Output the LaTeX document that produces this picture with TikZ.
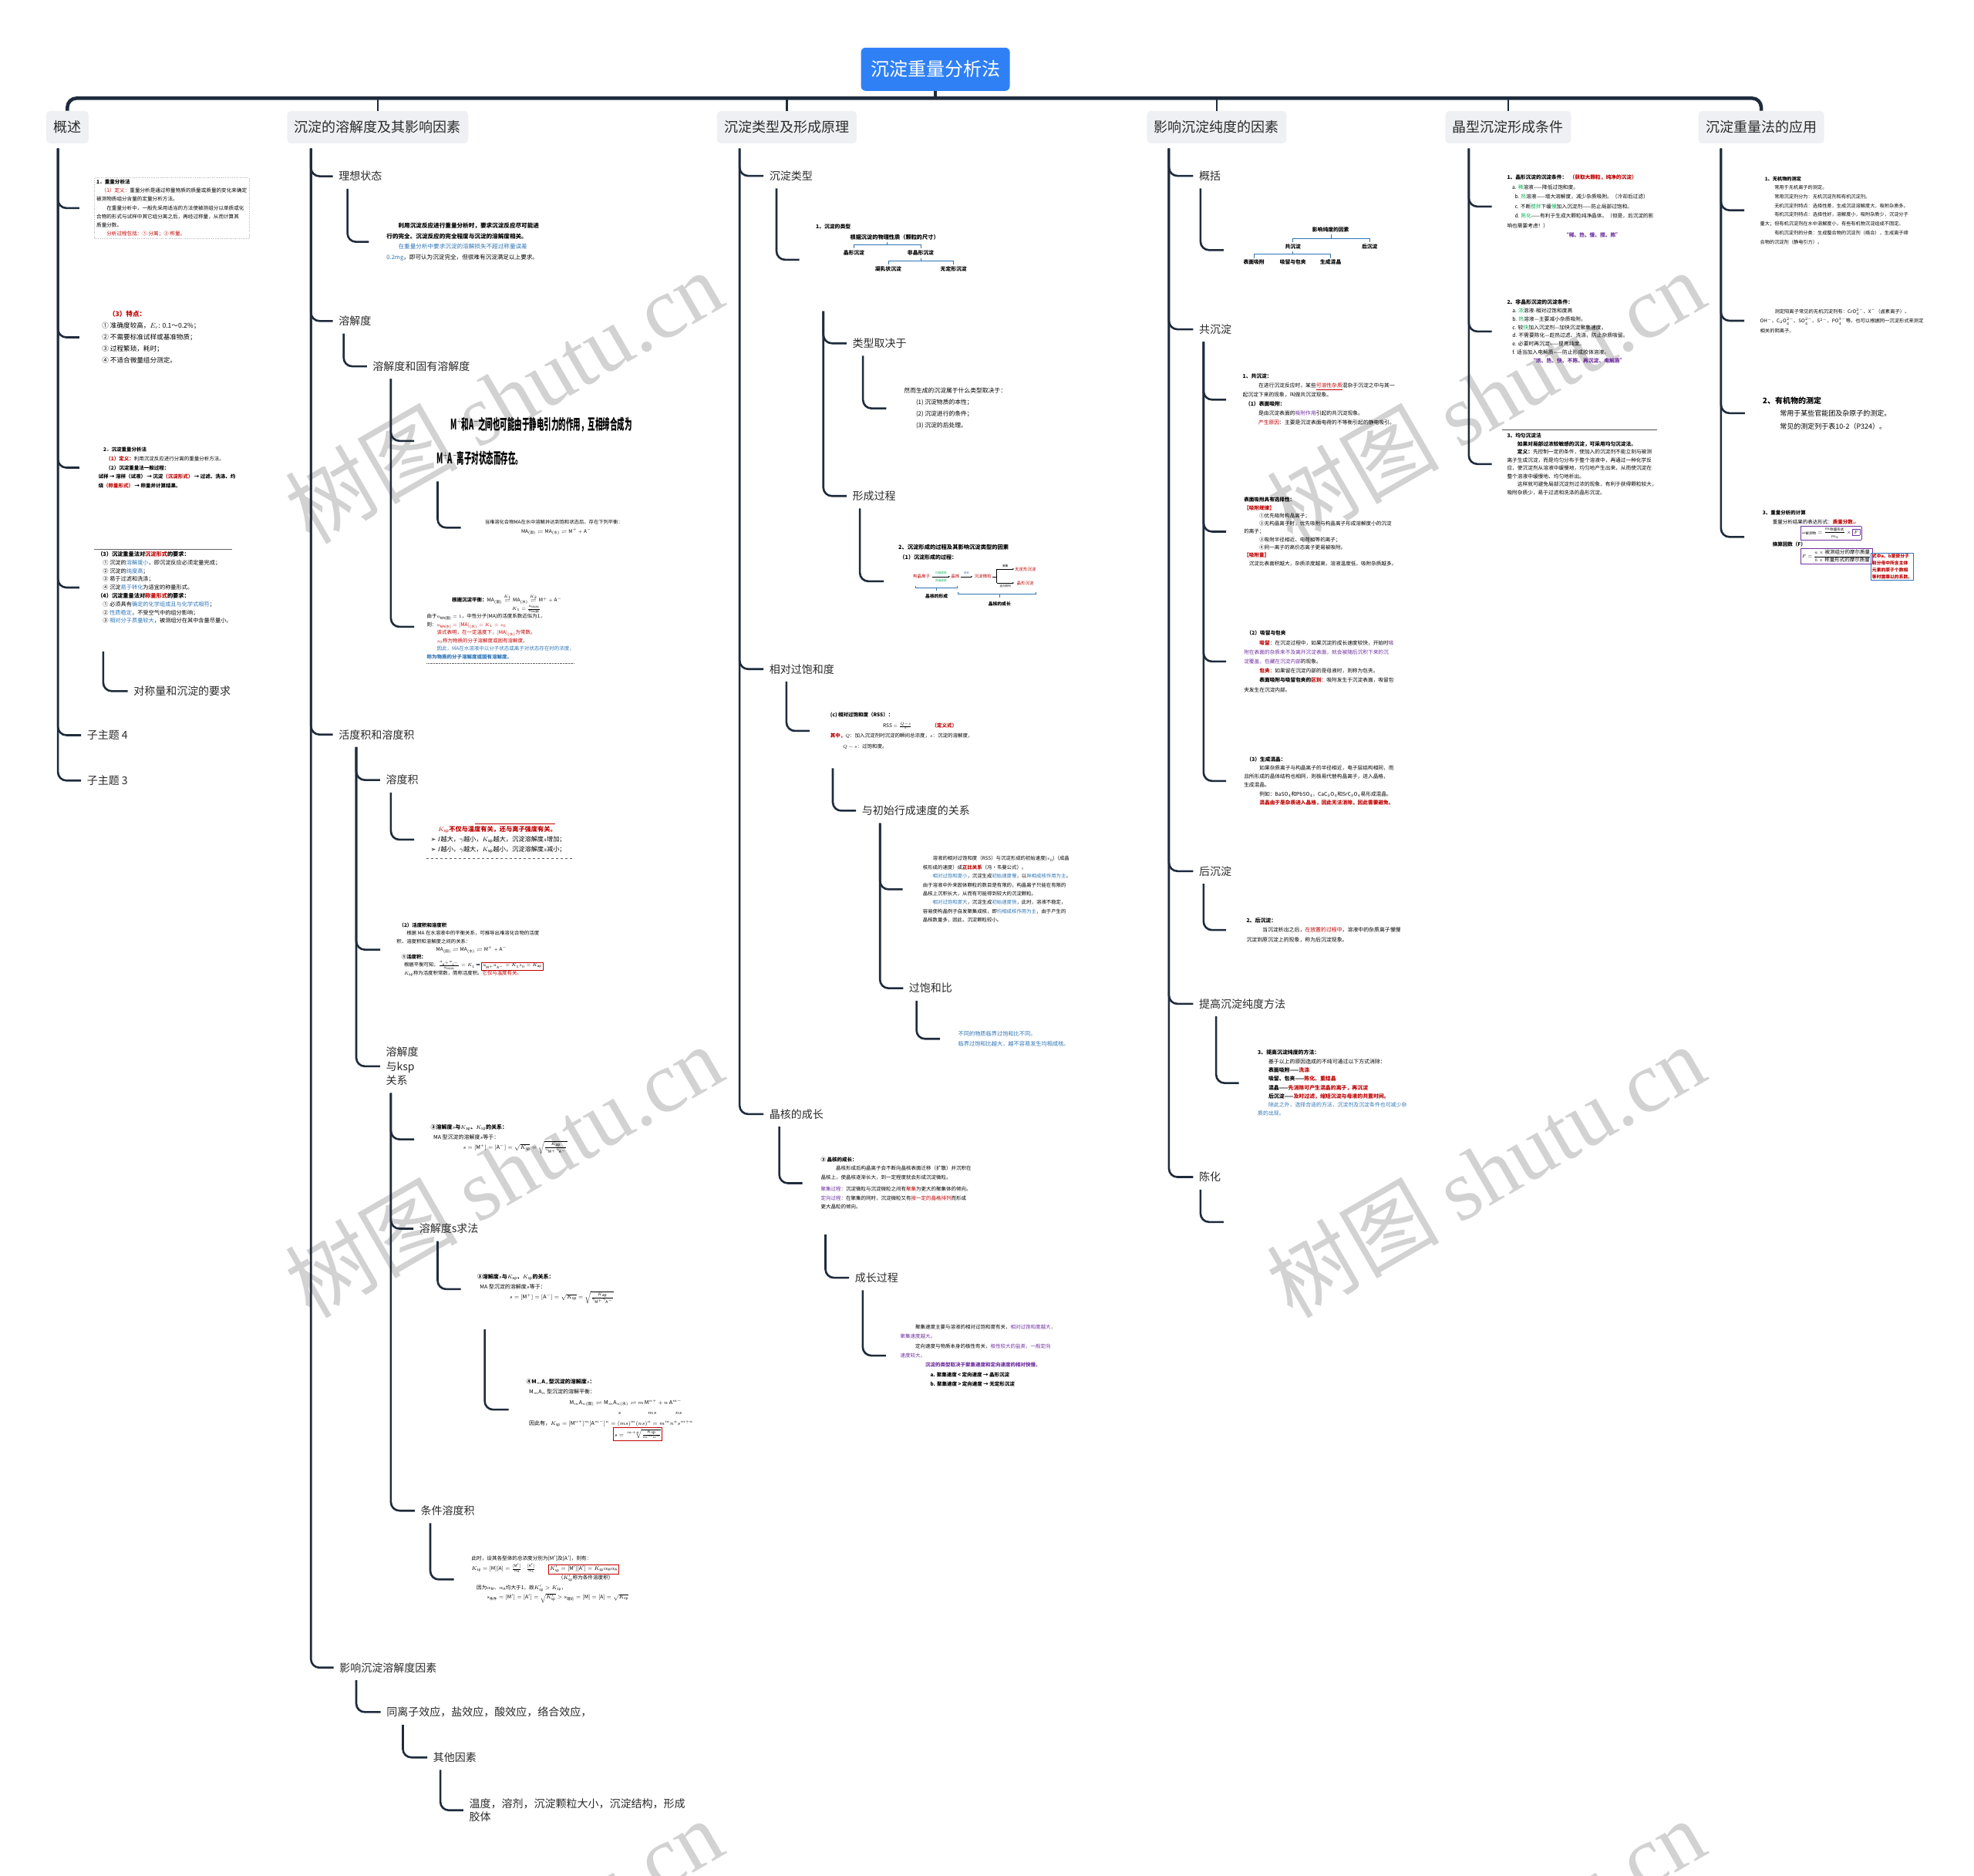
\documentclass[tikz,border=0pt]{standalone}
\usepackage{fontspec}
\usepackage{amsmath,amssymb}
\usepackage{graphicx}
\setmainfont{Noto Sans CJK SC}
\newfontfamily\wmserif{Liberation Serif}
\newfontfamily\djv{DejaVu Sans}
\usetikzlibrary{calc,arrows.meta}
\XeTeXlinebreaklocale "zh"
\definecolor{navy}{HTML}{1E2B3C}
\definecolor{rootblue}{HTML}{2F80F5}
\definecolor{hdrgray}{HTML}{EEF0F3}
\definecolor{txt}{HTML}{2B2B2B}
\definecolor{cred}{HTML}{C00000}
\definecolor{cblue}{HTML}{2E75B6}
\definecolor{cpurple}{HTML}{7030A0}
\definecolor{cgreen}{HTML}{00B050}
\definecolor{wm}{HTML}{D2D2D2}
\setlength\fboxsep{1.5pt}
\setlength\fboxrule{0.6pt}
\newcommand\fsz[2]{\fontsize{#1}{#2}\selectfont}
\newcommand\kid[4][4]{\coordinate (vx) at (#3,0);\draw[conn] (#2.south -| vx) ++(0,#1) |- (#4.west);}
\newcommand\kidg[5][4]{\coordinate (vx) at (#3,0);\draw[conn] (#2.south -| vx) ++(0,#1) |- ($(#4.west)+(-#5,0)$);}
\tikzset{
 conn/.style={draw=navy, line width=2.6pt, rounded corners=11pt},
 busline/.style={draw=navy, line width=4.5pt, rounded corners=12pt},
 rootbox/.style={fill=rootblue, text=white, rounded corners=6pt, minimum width=193pt, minimum height=56pt, font=\fsz{24}{28}},
 hdr/.style={fill=hdrgray, text=txt, rounded corners=5pt, minimum height=42pt, inner xsep=9.5pt, font=\fsz{18}{22}},
 lbl/.style={anchor=west, text=txt, inner xsep=7.5pt, inner ysep=3pt, font=\fsz{14}{18}, align=left},
 img/.style={anchor=north west, inner sep=0pt, align=left, text=black},
 tb/.style={inner sep=0pt, font=\bfseries\fsz{6.8}{8}},
 dg/.style={inner sep=0pt, font=\fsz{5.5}{6}},
 dgs/.style={inner sep=0pt, font=\fsz{3.6}{4}},
}
\begin{document}
\begin{tikzpicture}[x=1.6327pt,y=-1.6327pt]
\useasboundingbox (0,0) rectangle (1568,1490);
\fill[white] (0,0) rectangle (1568,1490);
% watermarks
\foreach \cx/\cy in {400/315,1180/315,400/930,1180/930,400/1545,1180/1545}
  \node[text=wm, rotate=30, font=\fsz{112}{112}] at (\cx,\cy) {树图 {\wmserif shutu.cn}};

% root and headers
\node[rootbox] (root) at (743,55) {沉淀重量分析法};
\node[hdr] (h1) at (53.5,101) {概述};
\node[hdr] (h2) at (300,101) {沉淀的溶解度及其影响因素};
\node[hdr] (h3) at (625,101) {沉淀类型及形成原理};
\node[hdr] (h4) at (966.5,101) {影响沉淀纯度的因素};
\node[hdr] (h5) at (1198,101) {晶型沉淀形成条件};
\node[hdr] (h6) at (1399,101) {沉淀重量法的应用};
\coordinate (bus) at (743,78);
\draw[busline] (h1.north) |- (bus) -| (h6.north);
\draw[busline] (root.south) -- (bus);
\foreach \h in {h2,h3,h4,h5} \draw[conn] (\h.north |- bus) -- (\h.north);

% ================= Column 1: 概述
\node[img, draw=gray!60, dotted, inner sep=2.5pt, font=\fsz{6.6}{11.2}] (c1a) at (75,141) {%
{\bfseries 1．重量分析法}\\
\hspace*{1em}{\color{cred}（1）定义：}重量分析是通过称量物质的质量或质量的变化来确定\\
被测物质组分含量的定量分析方法。\\
\hspace*{2em}在重量分析中，一般先采用适当的方法使被测组分以单质或化\\
合物的形式与试样中其它组分离之后，再经过称量，从而计算其\\
质量分数。\\
\hspace*{2em}{\color{cred}分析过程包括：① 分离；② 称量。}};
\node[img, font=\fsz{8.6}{15}] (c1b) at (81,247) {%
{\color{cred}\bfseries\hspace*{1em}（3）特点：}\\
① 准确度较高，$E_r$: 0.1～0.2\%；\\
② 不需要标准试样或基准物质；\\
③ 过程繁琐，耗时；\\
④ 不适合微量组分测定。};
\node[img, font=\fsz{6.5}{11.8}] (c1c) at (78,355) {%
\hspace*{1em}{\bfseries 2．沉淀重量分析法}\\
\hspace*{1.5em}{\color{cred}\bfseries（1）定义：}利用沉淀反应进行分离的重量分析方法。\\
\hspace*{1.5em}{\bfseries（2）沉淀重量法一般过程：}\\
{\bfseries 试样 → 溶样（试液） → 沉淀{\color{cred}（沉淀形式）} → 过滤、洗涤、灼}\\
{\bfseries 烧{\color{cred}（称量形式）} → 称量并计算结果。}};
\node[img, font=\fsz{7.2}{10.8}] (c1d) at (75,438) {%
\hspace*{0.5em}{\bfseries（3）沉淀重量法对{\color{cred}沉淀形式}的要求：}\\
\hspace*{1.5em}① 沉淀的{\color{cblue}溶解度小}，即沉淀反应必须定量完成；\\
\hspace*{1.5em}② 沉淀的{\color{cblue}纯度高}；\\
\hspace*{1.5em}③ 易于过滤和洗涤；\\
\hspace*{1.5em}④ 沉淀{\color{cblue}易于转化}为适宜的称量形式。\\
\hspace*{0.5em}{\bfseries（4）沉淀重量法对{\color{cred}称量形式}的要求：}\\
\hspace*{1.5em}① 必须具有{\color{cblue}确定的化学组成且与化学式相符}；\\
\hspace*{1.5em}② {\color{cblue}性质稳定}，不受空气中的组分影响；\\
\hspace*{1.5em}③ {\color{cblue}相对分子质量较大}，被测组分在其中含量尽量小。};
\draw[gray!80!black, line width=0.6pt] ($(c1d.north west)+(0,-2)$) -- ($(c1d.north east)+(0,-2)$);
\node[lbl] (c1e) at (101.4,549) {对称量和沉淀的要求};
\node[lbl] (c1f) at (64.4,584) {子主题 4};
\node[lbl] (c1g) at (64.4,620) {子主题 3};
\kidg{h1}{46}{c1a}{12}
\kidg{h1}{46}{c1b}{18}
\kidg{h1}{46}{c1c}{15}
\kidg{h1}{46}{c1d}{12}
\kid[22]{c1d}{82}{c1e}
\kid{h1}{46}{c1f}
\kid{h1}{46}{c1g}

% ================= Column 2
\node[lbl] (c2a) at (264.4,140) {理想状态};
\node[img, font=\fsz{7.6}{13.5}] (c2a1) at (307,177) {%
\hspace*{2em}{\bfseries 利用沉淀反应进行重量分析时，要求沉淀反应尽可能进}\\
{\bfseries 行的完全。沉淀反应的完全程度与沉淀的溶解度相关。}\\
\hspace*{2em}{\color{cblue}在重量分析中要求沉淀的溶解损失不超过称量误差}\\
{\color{cblue}0.2mg}，即可认为沉淀完全，但很难有沉淀满足以上要求。};
\kidg{c2a}{276}{c2a1}{14}

\node[lbl] (c2b) at (264.4,255) {溶解度};
\node[lbl] (c2b1) at (291.4,291) {溶解度和固有溶解度};
\kid{c2b}{273}{c2b1}
\node[img, font=\bfseries\fsz{19}{44}] (c2b1a) at (347,331) {%
\hspace*{18pt}\scalebox{0.5}[1]{M$^+$和A$^-$之间也可能由于静电引力的作用，互相缔合成为}\\
\scalebox{0.5}[1]{M$^+$A$^-$离子对状态而存在。}};
\kidg{c2b1}{310.5}{c2b1a}{18}
\node[img, font=\fsz{6.3}{11.4}] (c2b1a1) at (385,413) {%
当难溶化合物MA在水中溶解并达到饱和状态后，存在下列平衡：\\
\hspace*{7.5em}$\mathrm{MA}_{(\text{固})}\rightleftharpoons\mathrm{MA}_{(\text{水})}\rightleftharpoons\mathrm{M^{+}+A^{-}}$};
\kidg[13]{c2b1a}{347.6}{c2b1a1}{19}
\node[img, font=\fsz{6.5}{10.5}] (c2b1b) at (339,472) {%
\hspace*{5em}{\bfseries 根据沉淀平衡：}$\mathrm{MA}_{(\text{固})}\overset{K_1}{\rightleftharpoons}\mathrm{MA}_{(\text{水})}\overset{K_2}{\rightleftharpoons}\mathrm{M^{+}+A^{-}}$\\
\hspace*{17em}$K_1=\frac{a_{\text{MA(水)}}}{a_{\text{MA(固)}}}$\\
由于$a_{\text{MA(固)}}=1$，中性分子(MA)的活度系数近似为1，\\
则：{\color{cred}$a_{\text{MA(水)}}=[\mathrm{MA}]_{(\text{水})}=K_1=s_0$}\\
\hspace*{2em}{\color{cred}该式表明，在一定温度下，$[\mathrm{MA}]_{(\text{水})}$为常数。}\\
\hspace*{2em}{\color{cred}$s_0$称为物质的分子溶解度或固有溶解度。}\\
\hspace*{2em}{\color{cblue}因此，MA在水溶液中以分子状态或离子对状态存在时的浓度，}\\
{\color{cblue}\bfseries 称为物质的分子溶解度或固有溶解度。}};
\draw[densely dotted, gray!80!black] ($(c2b1b.south west)+(0,3)$) -- ($(c2b1b.south east)+(0,3)$);
\kidg{c2b1}{310.5}{c2b1b}{10}

\node[lbl] (c2c) at (264.4,583.5) {活度积和溶度积};
\node[lbl] (c2c1) at (301.9,619.6) {溶度积};
\kid{c2c}{283}{c2c1}
\node[img, font=\fsz{8.2}{13}] (c2c1a) at (342,656) {%
\hspace*{1.2em}{\color{cred}\bfseries $K_{\mathrm{sp}}$不仅与温度有关，还与离子强度有关。}\\
{\djv ➢} $I$越大，$\gamma$越小，$K_{\mathrm{sp}}$越大，沉淀溶解度$s$增加；\\
{\djv ➢} $I$越小，$\gamma$越大，$K_{\mathrm{sp}}$越小，沉淀溶解度$s$减小；};
\draw[cred, line width=0.7pt] ($(c2c1a.north west)+(35,-1.5)$) -- ++(64,0);
\draw[dashed, gray!70!black] ($(c2c1a.south west)+(-3,4)$) -- ($(c2c1a.south east)+(6,4)$);
\kidg{c2c1}{310.5}{c2c1a}{13}
\node[img, font=\fsz{6.4}{10.3}] (c2c2) at (315,733) {%
\hspace*{0.5em}{\bfseries （2）活度积和溶度积}\\
\hspace*{2em}根据 MA 在水溶液中的平衡关系，可推导出难溶化合物的活度\\
积、溶度积和溶解度之间的关系：\\
\hspace*{8em}$\mathrm{MA}_{(\text{固})}\rightleftharpoons\mathrm{MA}_{(\text{水})}\rightleftharpoons\mathrm{M^{+}+A^{-}}$\\
\hspace*{1em}{\bfseries ①活度积：}\\
\hspace*{1.5em}根据平衡可知，$\frac{a_{\mathrm{M^+}}a_{\mathrm{A^-}}}{a_{\text{MA(水)}}}=K_1$\ {\djv\color{navy}➡}\ \fcolorbox{cred}{white}{$a_{\mathrm{M^+}}a_{\mathrm{A^-}}=K_1s_0=K_{\mathrm{ap}}$}\\
\hspace*{1.5em}$K_{\mathrm{ap}}$称为活度积常数，简称活度积。{\color{cred}它仅与温度有关。}};
\kidg{c2c}{283}{c2c2}{13}
\node[lbl, font=\fsz{14}{18.5}] (c2c3) at (301.9,847) {溶解度\\与ksp\\关系};
\kid{c2c}{283}{c2c3}
\node[img, font=\fsz{7}{13}] (c2c3a) at (342,893) {%
{\bfseries ③溶解度$s$与$K_{\mathrm{ap}}$、$K_{\mathrm{sp}}$的关系：}\\
\hspace*{0.5em}MA 型沉淀的溶解度$s$等于：\\
\hspace*{6em}$s=[\mathrm{M^+}]=[\mathrm{A^-}]=\sqrt{K_{\mathrm{sp}}}=\sqrt{\frac{K_{\mathrm{ap}}}{\gamma_{\mathrm{M^+}}\gamma_{\mathrm{A^-}}}}$};
\kidg{c2c3}{310.5}{c2c3a}{13}
\node[lbl] (c2c3b) at (328.4,976) {溶解度s求法};
\kid{c2c3}{310.5}{c2c3b}
\node[img, font=\fsz{7}{13}] (c2c3b1) at (379,1012) {%
{\bfseries ③溶解度$s$与$K_{\mathrm{ap}}$、$K_{\mathrm{sp}}$的关系：}\\
\hspace*{0.5em}MA 型沉淀的溶解度$s$等于：\\
\hspace*{6em}$s=[\mathrm{M^+}]=[\mathrm{A^-}]=\sqrt{K_{\mathrm{sp}}}=\sqrt{\frac{K_{\mathrm{ap}}}{\gamma_{\mathrm{M^+}}\gamma_{\mathrm{A^-}}}}$};
\kidg{c2c3b}{347.6}{c2c3b1}{13}
\node[img, font=\fsz{7}{13.5}] (c2c3b1a) at (418,1095) {%
{\bfseries ④M$_m$A$_n$型沉淀的溶解度$s$：}\\
\hspace*{0.5em}M$_m$A$_n$ 型沉淀的溶解平衡：\\
\hspace*{8em}$\mathrm{M}_m\mathrm{A}_{n(\text{固})}\rightleftharpoons\mathrm{M}_m\mathrm{A}_{n(\text{水})}\rightleftharpoons m\,\mathrm{M}^{n+}+n\,\mathrm{A}^{m-}$\\
\hspace*{17em}$s$\hspace{5em}$ms$\hspace{3.5em}$ns$\\
\hspace*{0.5em}因此有，$K_{\mathrm{sp}}=[\mathrm{M}^{n+}]^m[\mathrm{A}^{m-}]^n=(ms)^m(ns)^n=m^mn^ns^{m+n}$\\
\hspace*{16em}\fcolorbox{cred}{white}{$s=\sqrt[m+n]{\frac{K_{\mathrm{sp}}}{m^mn^n}}$}};
\kidg[20]{c2c3b1}{385}{c2c3b1a}{14}
\node[lbl] (c2c3c) at (329.4,1200) {条件溶度积};
\kid{c2c3}{310.5}{c2c3c}
\node[img, font=\fsz{6.6}{12.5}] (c2c3c1) at (374.5,1236) {%
此时，设其各型体的总浓度分别为[M$'$]及[A$'$]，则有：\\
$K_{\mathrm{sp}}=[\mathrm{M}][\mathrm{A}]=\frac{[\mathrm{M'}]}{\alpha_{\mathrm{M}}}\cdot\frac{[\mathrm{A'}]}{\alpha_{\mathrm{A}}}$\hspace{2.5em}\fcolorbox{cred}{white}{$K'_{\mathrm{sp}}=[\mathrm{M'}][\mathrm{A'}]=K_{\mathrm{sp}}\alpha_{\mathrm{M}}\alpha_{\mathrm{A}}$}\\
\hspace*{17em}（$K'_{\mathrm{sp}}$称为条件溶度积）\\
\hspace*{1em}因为$\alpha_{\mathrm{M}}$、$\alpha_{\mathrm{A}}$均大于1，故$K'_{\mathrm{sp}}>K_{\mathrm{sp}}$，\\
\hspace*{3em}$s_{\text{条件}}=[\mathrm{M'}]=[\mathrm{A'}]=\sqrt{K'_{\mathrm{sp}}}>s_{\text{理论}}=[\mathrm{M}]=[\mathrm{A}]=\sqrt{K_{\mathrm{sp}}}$};
\kidg{c2c3c}{341.8}{c2c3c1}{14}

\node[lbl] (c2d) at (265,1324.7) {影响沉淀溶解度因素};
\node[lbl] (c2d1) at (302.4,1360) {同离子效应，盐效应，酸效应，络合效应，};
\kid{c2d}{283}{c2d1}
\node[lbl] (c2d1a) at (339.4,1396) {其他因素};
\kid{c2d1}{320}{c2d1a}
\node[lbl, font=\fsz{14}{17.5}] (c2d1a1) at (368,1438) {温度，溶剂，沉淀颗粒大小，沉淀结构，形成\\胶体};
\kid{c2d1a}{349.8}{c2d1a1}
\kid{h2}{247}{c2a}
\kid{h2}{247}{c2b}
\kid{h2}{247}{c2c}
\kid{h2}{247}{c2d}

% ================= Column 3
\node[lbl] (c3a) at (606.4,139.7) {沉淀类型};
\node[inner sep=0pt, minimum width=197pt, minimum height=97pt, anchor=north west] (c3a1) at (648,176.5) {};
\node[tb, anchor=west] at (648,180) {1、沉淀的类型};
\node[tb, font=\bfseries\fsz{7.2}{8}] at (710.6,188.5) {根据沉淀的物理性质（颗粒的尺寸）};
\draw[cblue, line width=0.6pt] (678.3,197) -- (678.3,194.5) -- (731.3,194.5) -- (731.3,197) (704.8,194.5) -- (704.8,192.3);
\node[tb] at (678.3,201) {晶形沉淀};
\node[tb] at (731.3,201) {非晶形沉淀};
\draw[cblue, line width=0.6pt] (705.5,210) -- (705.5,207.4) -- (757.5,207.4) -- (757.5,210) (731.3,207.4) -- (731.3,205);
\node[tb] at (705.5,213.8) {凝乳状沉淀};
\node[tb] at (757.5,213.8) {无定形沉淀};
\kidg{c3a}{616.8}{c3a1}{13}
\node[lbl] (c3a1a) at (672.4,272.7) {类型取决于};
\kid[11]{c3a1}{654}{c3a1a}
\node[img, font=\fsz{7.8}{15}] (c3a1a1) at (718,308) {%
然而生成的沉淀属于什么类型取决于：\\
\hspace*{2em}(1) 沉淀物质的本性；\\
\hspace*{2em}(2) 沉淀进行的条件；\\
\hspace*{2em}(3) 沉淀的后处理。};
\kidg{c3a1a}{685.5}{c3a1a1}{14}
\node[lbl] (c3a1b) at (672.4,394) {形成过程};
\kid[11]{c3a1}{654}{c3a1b}
\node[inner sep=0pt, minimum width=185pt, minimum height=100pt, anchor=north west] (c3a1b1) at (712.5,431) {};
\node[tb, anchor=west, font=\bfseries\fsz{7.3}{9}] at (713.5,435) {2、沉淀形成的过程及其影响沉淀类型的因素};
\node[tb, anchor=west, font=\bfseries\fsz{7}{9}] at (714.5,442.7) {（1）沉淀形成的过程：};
\node[dg, text=cred] at (732,458) {构晶离子};
\draw[-{Stealth[length=2.2pt]}, line width=0.4pt] (740.5,458) -- (754.5,458);
\node[dgs, text=cgreen] at (747.5,455) {均相成核};
\node[dgs, text=cgreen] at (747.5,461) {异相成核};
\node[dg, text=cred] at (758.8,458) {晶核};
\draw[-{Stealth[length=2.2pt]}, line width=0.4pt] (763,458) -- (772.5,458);
\node[dgs, text=cblue] at (767.7,455.3) {成长};
\node[dg, text=cred] at (780.8,458) {沉淀微粒};
\draw[line width=0.4pt] (788.3,458) -- (791.7,458) (791.7,452) -- (791.7,463);
\draw[-{Stealth[length=2.2pt]}, line width=0.4pt] (791.7,452) -- (805.5,452);
\draw[-{Stealth[length=2.2pt]}, line width=0.4pt] (791.7,463) -- (805.5,463);
\node[dgs] at (798.6,449.8) {聚集};
\node[dgs] at (798.6,465.6) {定向排列};
\node[dg, text=cred, anchor=west] at (806,452) {无定形沉淀};
\node[dg, text=cred, anchor=west] at (807.5,463) {晶形沉淀};
\draw[cblue, line width=0.5pt] (727,465.5) -- (727,467) -- (760.5,467) -- (760.5,465.5) (744,467) -- (744,469);
\node[dg, font=\bfseries\fsz{5.8}{6}] at (744,473.5) {晶核的形成};
\draw[cblue, line width=0.5pt] (761,470.5) -- (761,472) -- (823,472) -- (823,470.5) (794,472) -- (794,474.5);
\node[dg, font=\bfseries\fsz{5.8}{6}] at (794,479.5) {晶核的成长};
\kidg{c3a1b}{683}{c3a1b1}{10.5}

\node[lbl] (c3b) at (606.4,531.5) {相对过饱和度};
\node[img, font=\fsz{6.5}{13.5}] (c3b1) at (659.5,566) {%
{\bfseries (c) 相对过饱和度（RSS）：}\\
\hspace*{10.5em}RSS $=\frac{Q-s}{s}$\hspace{4em}{\color{cred}\bfseries（定义式）}\\
{\color{cred}\bfseries 其中，}$Q$：加入沉淀剂时沉淀的瞬间总浓度，$s$：沉淀的溶解度，\\
\hspace*{2.5em}$Q-s$：过饱和度。};
\kidg{c3b}{624.7}{c3b1}{16.5}
\node[lbl] (c3b1a) at (680,644) {与初始行成速度的关系};
\kid[15]{c3b1}{661.5}{c3b1a}
\node[img, font=\fsz{6.4}{11.4}] (c3b1a1) at (733,680) {%
\hspace*{2em}溶液的相对过饱和度（RSS）与沉淀形成的初始速度($v_0$)（成晶\\
核形成的速度）成{\color{cred}\bfseries 正比关系}（冯·韦曼公式）。\\
\hspace*{2em}{\color{cblue}相对过饱和度小}，沉淀生成{\color{cblue}初始速度慢}，以{\color{cblue}异相成核作用为主}。\\
由于溶液中外来固体颗粒的数目是有限的，构晶离子只能在有限的\\
晶核上沉积长大，从而有可能得到较大的沉淀颗粒。\\
\hspace*{2em}{\color{cblue}相对过饱和度大}，沉淀生成{\color{cblue}初始速度快}，此时，溶液不稳定，\\
容易使构晶例子自发聚集成核，即{\color{cblue}均相成核作用为主}，由于产生的\\
晶核数量多，因此，沉淀颗粒较小。};
\kidg{c3b1a}{699}{c3b1a1}{16}
\node[lbl] (c3b1a2) at (717.4,785) {过饱和比};
\kid{c3b1a}{699}{c3b1a2}
\node[img, text=cblue, font=\fsz{7.2}{13}] (c3b1a2a) at (761,819) {%
不同的物质临界过饱和比不同。\\
临界过饱和比越大，越不容易发生均相成核。};
\kidg{c3b1a2}{728}{c3b1a2a}{14.4}

\node[lbl] (c3c) at (606.4,885) {晶核的成长};
\node[img, font=\fsz{6.5}{11.5}] (c3c1) at (652,919) {%
{\bfseries ② 晶核的成长：}\\
\hspace*{3em}晶核形成后构晶离子会不断向晶核表面迁移（扩散）并沉积在\\
晶核上，使晶核逐渐长大，到一定程度就会形成沉淀微粒。\\[4pt]
{\color{cpurple}聚集过程}：沉淀微粒与沉淀微粒之间有{\color{cred}聚集}为更大的聚集体的倾向。\\
{\color{cpurple}定向过程}：在聚集的同时，沉淀微粒又有{\color{cred}按一定的晶格排列}而形成\\
更大晶粒的倾向。};
\kidg{c3c}{619}{c3c1}{14.6}
\node[lbl] (c3c1a) at (674.4,1015) {成长过程};
\kid[20]{c3c1}{655.7}{c3c1a}
\node[img, font=\fsz{6.5}{12.4}] (c3c1a1) at (715,1052) {%
\hspace*{3em}聚集速度主要与溶液的相对过饱和度有关，{\color{cpurple}相对过饱和度越大，}\\
{\color{cpurple}聚集速度越大。}\\
\hspace*{3em}定向速度与物质本身的极性有关，{\color{cpurple}极性较大的盐类，一般定向}\\
{\color{cpurple}速度较大。}\\
\hspace*{5em}{\color{cpurple}\bfseries 沉淀的类型取决于聚集速度和定向速度的相对快慢。}\\
\hspace*{6em}{\bfseries a. 聚集速度 < 定向速度 → 晶形沉淀}\\
\hspace*{6em}{\bfseries b. 聚集速度 > 定向速度 → 无定形沉淀}};
\kidg{c3c1a}{685.3}{c3c1a1}{11.3}
\kid{h3}{587.5}{c3a}
\kid{h3}{587.5}{c3b}
\kid{h3}{587.5}{c3c}

% ================= Column 4
\node[lbl] (c4a) at (947.8,139.7) {概括};
\node[inner sep=0pt, minimum width=180pt, minimum height=67pt, anchor=north west] (c4a1) at (986,178) {};
\node[tb] at (1057,182.5) {影响纯度的因素};
\draw[cblue, line width=0.6pt] (1027,192.3) -- (1027,189.3) -- (1088,189.3) -- (1088,192.3) (1057.5,189.3) -- (1057.5,186.3);
\node[tb] at (1027,195.8) {共沉淀};
\node[tb] at (1088,195.8) {后沉淀};
\draw[cblue, line width=0.6pt] (996,205) -- (996,202) -- (1057,202) -- (1057,205) (1027,202) -- (1027,199.5);
\node[tb] at (996,208.3) {表面吸附};
\node[tb] at (1027,208.3) {吸留与包夹};
\node[tb] at (1057,208.3) {生成混晶};
\kidg{c4a}{953.6}{c4a1}{14}
\node[lbl] (c4b) at (947.8,261.6) {共沉淀};
\node[img, font=\fsz{6.8}{12}] (c4b1) at (987,297) {%
{\bfseries 1、共沉淀：}\\
\hspace*{3em}在进行沉淀反应时，某些{\color{cred}\underline{可溶性杂质}}混杂于沉淀之中与其一\\
起沉淀下来的现象，叫做共沉淀现象。\\
\hspace*{0.5em}{\bfseries （1）表面吸附：}\\
\hspace*{3em}是由沉淀表面的{\color{cpurple}吸附作用}引起的共沉淀现象。\\
\hspace*{3em}{\color{cred}产生原因}：主要是沉淀表面电荷的不等衡引起的静电吸引。};
\node[img, font=\fsz{6.6}{10.3}] (c4b2) at (988,395) {%
{\bfseries 表面吸附具有选择性：}\\
{\color{cred}\bfseries 【吸附规律】}\\
\hspace*{3em}①优先吸附构晶离子；\\
\hspace*{3em}②无构晶离子时，优先吸附与构晶离子形成溶解度小的沉淀\\
的离子；\\
\hspace*{3em}③吸附半径相近、电荷相等的离子；\\
\hspace*{3em}④同一离子的高价态离子更易被吸附。\\
{\color{cred}\bfseries 【吸附量】}\\
\hspace*{1em}沉淀比表面积越大，杂质浓度越高，溶液温度低，吸附杂质越多。};
\node[img, font=\fsz{6.7}{12.2}] (c4b3) at (988,501) {%
\hspace*{0.5em}{\bfseries （2）吸留与包夹}\\
\hspace*{3em}{\color{cred}\bfseries 吸留}：在沉淀过程中，如果沉淀的成长速度较快，开始时{\color{cpurple}吸}\\
{\color{cpurple}附在表面的杂质来不及离开沉淀表面，就会被随后沉积下来的沉}\\
{\color{cpurple}淀覆盖，包藏在沉淀内部}的现象。\\
\hspace*{3em}{\color{cred}\bfseries 包夹}：如果留在沉淀内部的是母液时，则称为包夹。\\
\hspace*{3em}{\bfseries 表面吸附与吸留包夹的{\color{cred}区别}}：吸附发生于沉淀表面，吸留包\\
夹发生在沉淀内部。};
\node[img, font=\fsz{6.7}{11.2}] (c4b4) at (988,601) {%
\hspace*{0.5em}{\bfseries （3）生成混晶：}\\
\hspace*{3em}如果杂质离子与构晶离子的半径相近，电子层结构相同，而\\
且所形成的晶体结构也相同，则极易代替构晶离子，进入晶格，\\
生成混晶。\\
\hspace*{3em}例如：BaSO$_4$和PbSO$_4$，CaC$_2$O$_4$和SrC$_2$O$_4$易形成混晶。\\
\hspace*{3em}{\color{cred}\bfseries 混晶由于是杂质进入晶格，因此无法消除，因此需要避免。}};
\kidg{c4b}{956}{c4b1}{13}
\kidg{c4b}{956}{c4b2}{14}
\kidg{c4b}{956}{c4b3}{14}
\kidg{c4b}{956}{c4b4}{14}
\node[lbl] (c4c) at (947.8,692) {后沉淀};
\node[img, font=\fsz{6.9}{12.4}] (c4c1) at (990,729) {%
{\bfseries 2、后沉淀：}\\
\hspace*{3em}当沉淀析出之后，{\color{cred}在放置的过程中}，溶液中的杂质离子慢慢\\
沉淀到原沉淀上的现象，称为后沉淀现象。};
\kidg{c4c}{956}{c4c1}{16}
\node[lbl] (c4d) at (947.8,797.4) {提高沉淀纯度方法};
\node[img, font=\fsz{6.9}{11.3}] (c4d1) at (999,834) {%
{\bfseries 3、提高沉淀纯度的方法：}\\
\hspace*{2em}基于以上的原因造成的不纯可通过以下方式消除：\\
\hspace*{2em}{\bfseries 表面吸附——}{\color{cred}\bfseries 洗涤}\\
\hspace*{2em}{\bfseries 吸留、包夹——}{\color{cred}\bfseries 陈化、重结晶}\\
\hspace*{2em}{\bfseries 混晶——}{\color{cred}\bfseries 先消除可产生混晶的离子，再沉淀}\\
\hspace*{2em}{\bfseries 后沉淀——}{\color{cred}\bfseries 及时过滤，缩短沉淀与母液的共置时间。}\\
\hspace*{2em}{\color{cblue}除此之外，选择合适的方法，沉淀剂及沉淀条件也可减少杂}\\
{\color{cblue}质的出现。}};
\kidg{c4d}{966}{c4d1}{15}
\node[lbl] (c4e) at (947.8,935) {陈化};
\coordinate (c4e1) at (972,970.7);
\coordinate (vx) at (953.6,0);
\draw[conn] (c4e.south -| vx) ++(0,4) |- (c4e1);
\kid{h4}{928.5}{c4a}
\kid{h4}{928.5}{c4b}
\kid{h4}{928.5}{c4c}
\kid{h4}{928.5}{c4d}
\kid{h4}{928.5}{c4e}

% ================= Column 5
\node[img, font=\fsz{6.7}{12.5}] (c5a) at (1197,139) {%
{\bfseries 1、晶形沉淀的沉淀条件：}\hspace{0.5em}{\color{cred}\bfseries （获取大颗粒，纯净的沉淀）}\\
\hspace*{1em}a. {\color{cgreen}稀}溶液——降低过饱和度。\\
\hspace*{1.5em}b. {\color{cgreen}热}溶液——增大溶解度，减少杂质吸附。（冷却后过滤）\\
\hspace*{1.5em}c. 不断{\color{cgreen}搅拌}下缓{\color{cgreen}慢}加入沉淀剂——防止局部过饱和。\\
\hspace*{1.5em}d. {\color{cgreen}陈化}——有利于生成大颗粒纯净晶体。（但是，后沉淀的影\\
响也需要考虑！）\\
\hspace*{11em}{\color{cpurple}\bfseries “稀、热、慢、搅、陈”}};
\node[img, font=\fsz{6.8}{10.8}] (c5b) at (1197,238) {%
{\bfseries 2、非晶形沉淀的沉淀条件：}\\
\hspace*{1em}a. {\color{cgreen}浓}溶液-相对过饱和度高\\
\hspace*{1em}b. {\color{cgreen}热}溶液—主要减小杂质吸附。\\
\hspace*{1em}c. 较{\color{cgreen}快}加入沉淀剂—加快沉淀聚集速度。\\
\hspace*{1em}d. 不需要陈化—趁热过滤、洗涤，防止杂质吸留。\\
\hspace*{1em}e. 必要时再沉淀——提高纯度。\\
\hspace*{1em}f. 适当加入电解质——防止形成胶体溶液。\\
\hspace*{4.5em}{\color{cpurple}\bfseries “浓、热、快、不陈、再沉淀、电解质”}};
\node[img, font=\fsz{6.7}{10.5}] (c5c) at (1197,344) {%
{\bfseries 3、均匀沉淀法}\\
\hspace*{2em}{\bfseries 如果对局部过浓较敏感的沉淀，可采用均匀沉淀法。}\\
\hspace*{2em}{\bfseries 定义：}先控制一定的条件，使加入的沉淀剂不能立刻与被测\\
离子生成沉淀，而是均匀分布于整个溶液中，再通过一种化学反\\
应，使沉淀剂从溶液中缓慢地，均匀地产生出来，从而使沉淀在\\
整个溶液中缓慢地、均匀地析出。\\
\hspace*{2em}这样就可避免局部沉淀剂过浓的现象，有利于获得颗粒较大，\\
吸附杂质少，易于过滤和洗涤的晶形沉淀。};
\draw[black!70, line width=0.5pt] ($(c5c.north west)+(-4,-2.5)$) -- ($(c5c.north east)+(0,-2.5)$);
\kidg{h5}{1166.7}{c5a}{12}
\kidg{h5}{1166.7}{c5b}{12}
\kidg{h5}{1166.7}{c5c}{12}

% ================= Column 6
\node[img, font=\fsz{6.2}{11.7}] (c6a) at (1398,140) {%
\hspace*{1em}{\bfseries 1、无机物的测定}\\
\hspace*{3em}常用于无机离子的测定。\\
\hspace*{3em}常用沉淀剂分为：无机沉淀剂和有机沉淀剂。\\
\hspace*{3em}无机沉淀剂特点：选择性差，生成沉淀溶解度大，吸附杂质多。\\
\hspace*{3em}有机沉淀剂特点：选择性好，溶解度小，吸附杂质少，沉淀分子\\
量大；但有机沉淀剂在水中溶解度小，有些有机物沉淀组成不固定。\\
\hspace*{3em}有机沉淀剂的分类：生成螯合物的沉淀剂（络合），生成离子缔\\
合物的沉淀剂（静电引力）。};
\node[img, font=\fsz{6.3}{12.4}] (c6b) at (1398,245) {%
\hspace*{3em}测定阳离子常见的无机沉淀剂有：CrO$_4^{2-}$、X$^-$（卤素离子）、\\
OH$^-$、C$_2$O$_4^{2-}$、SO$_4^{2-}$、S$^{2-}$、PO$_4^{3-}$等。也可以根据同一沉淀形式来测定\\
相关的阴离子。};
\node[img, font=\fsz{9}{16.6}] (c6c) at (1400,315) {%
{\bfseries\fsz{10}{16.6}2、有机物的测定}\\
\hspace*{2.5em}常用于某些官能团及杂原子的测定。\\
\hspace*{2.5em}常见的测定列于表10-2（P324）。};
\node[img, font=\fsz{6.5}{12}] (c6d) at (1398,405) {%
\hspace*{0.5em}{\bfseries 3、重量分析的计算}\\
\hspace*{2.5em}重量分析结果的表达形式：{\color{cred}\bfseries 质量分数$\omega$}\\[1pt]
\hspace*{8em}\fcolorbox{cpurple}{white}{$\omega_{\text{被测物}}=\dfrac{m_{\text{称量形式}}}{m_{\mathrm{s}}}\times\fcolorbox{cpurple}{white}{$F$}$}\\[1pt]
\hspace*{2.5em}{\bfseries 换算因数（F）}\\[1pt]
\hspace*{8em}\fcolorbox{cpurple}{white}{$F=\dfrac{a\times\text{被测组分的摩尔质量}}{b\times\text{称量形式的摩尔质量}}$}};
\node[draw=cblue, line width=0.6pt, text=cred, font=\bfseries\fsz{5.8}{9}, align=left, inner sep=1.5pt, anchor=north west] (c6d2) at (1486,439) {式中a、b是使分子\\和分母中所含主体\\元素的原子个数相\\等时需乘以的系数。};
\kidg{h6}{1367}{c6a}{12.4}
\kidg{h6}{1367}{c6b}{12.4}
\kidg{h6}{1367}{c6c}{14}
\kidg{h6}{1367}{c6d}{12.4}
\end{tikzpicture}
\end{document}
